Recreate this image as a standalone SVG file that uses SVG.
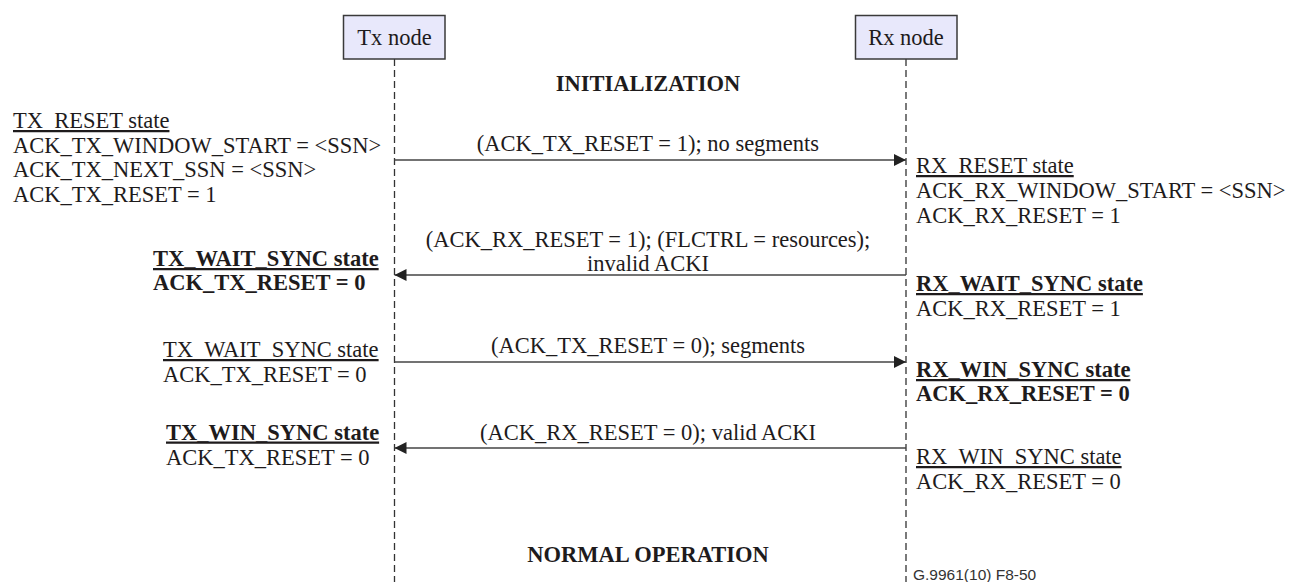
<svg xmlns="http://www.w3.org/2000/svg" width="1292" height="582" viewBox="0 0 1292 582">
<defs>
<style>
text{font-family:"Liberation Serif","Times New Roman",serif;font-size:22.5px;fill:#1e1b1c}
.b{font-weight:bold}
.u{text-decoration:underline;text-decoration-thickness:1.5px}
.c{text-anchor:middle}
.box{fill:#e8e8fb;stroke:#3a3a3a;stroke-width:1.5}
.life{stroke:#333;stroke-width:1.3;stroke-dasharray:7 4;fill:none}
.msg{stroke:#444;stroke-width:1.7;fill:none}
.ref{font-family:"Liberation Sans",Arial,sans-serif;font-size:15.5px;fill:#333}
</style>
<marker id="ah" viewBox="0 0 12 12" refX="12" refY="6" markerWidth="12" markerHeight="12" markerUnits="userSpaceOnUse" orient="auto">
<path d="M0,0 L12,6 L0,12 Z" fill="#222"/>
</marker>
</defs>
<rect width="1292" height="582" fill="#fff"/>
<g id="lifelines">
<line class="life" x1="394.5" y1="59" x2="394.5" y2="582"/>
<line class="life" x1="906" y1="59" x2="906" y2="582"/>
</g>
<g id="tx-node">
<rect class="box" x="343.5" y="15.5" width="101.5" height="43.5"/>
<text class="c" x="394.5" y="45">Tx node</text>
</g>
<g id="rx-node">
<rect class="box" x="855.5" y="15.5" width="101.5" height="43.5"/>
<text class="c" x="906" y="45">Rx node</text>
</g>
<g id="phases">
<text class="b c" x="648" y="91">INITIALIZATION</text>
<text class="b c" x="648" y="562">NORMAL OPERATION</text>
</g>
<g id="connectors">
<line class="msg" x1="394.5" y1="160" x2="906" y2="160" marker-end="url(#ah)"/>
<line class="msg" x1="906" y1="275" x2="394.5" y2="275" marker-end="url(#ah)"/>
<line class="msg" x1="394.5" y1="362" x2="906" y2="362" marker-end="url(#ah)"/>
<line class="msg" x1="906" y1="448" x2="394.5" y2="448" marker-end="url(#ah)"/>
</g>
<g id="connector-labels">
<text class="c" x="648" y="151">(ACK_TX_RESET = 1); no segments</text>
<text class="c" x="648" y="247">(ACK_RX_RESET = 1); (FLCTRL = resources);</text>
<text class="c" x="648" y="271">invalid ACKI</text>
<text class="c" x="648" y="353">(ACK_TX_RESET = 0); segments</text>
<text class="c" x="648" y="440">(ACK_RX_RESET = 0); valid ACKI</text>
</g>
<g id="tx-reset-state">
<text class="u" x="13" y="128">TX_RESET state</text>
<text x="13" y="152.5">ACK_TX_WINDOW_START = &lt;SSN&gt;</text>
<text x="13" y="177">ACK_TX_NEXT_SSN = &lt;SSN&gt;</text>
<text x="13" y="201.5">ACK_TX_RESET = 1</text>
</g>
<g id="tx-wait-sync-1">
<text class="b u" x="153" y="266">TX_WAIT_SYNC state</text>
<text class="b" x="153" y="290">ACK_TX_RESET = 0</text>
</g>
<g id="tx-wait-sync-2">
<text class="u" x="163" y="357">TX_WAIT_SYNC state</text>
<text x="163" y="382">ACK_TX_RESET = 0</text>
</g>
<g id="tx-win-sync">
<text class="b u" x="166" y="439.5">TX_WIN_SYNC state</text>
<text x="166" y="465">ACK_TX_RESET = 0</text>
</g>
<g id="rx-reset-state">
<text class="u" x="916" y="173">RX_RESET state</text>
<text x="916" y="197.5">ACK_RX_WINDOW_START = &lt;SSN&gt;</text>
<text x="916" y="222.5">ACK_RX_RESET = 1</text>
</g>
<g id="rx-wait-sync">
<text class="b u" x="916" y="291">RX_WAIT_SYNC state</text>
<text x="916" y="316">ACK_RX_RESET = 1</text>
</g>
<g id="rx-win-sync-1">
<text class="b u" x="916" y="377">RX_WIN_SYNC state</text>
<text class="b" x="916" y="401">ACK_RX_RESET = 0</text>
</g>
<g id="rx-win-sync-2">
<text class="u" x="916" y="464">RX_WIN_SYNC state</text>
<text x="916" y="489">ACK_RX_RESET = 0</text>
</g>
<text class="ref" x="913" y="580">G.9961(10)  F8-50</text>
</svg>
